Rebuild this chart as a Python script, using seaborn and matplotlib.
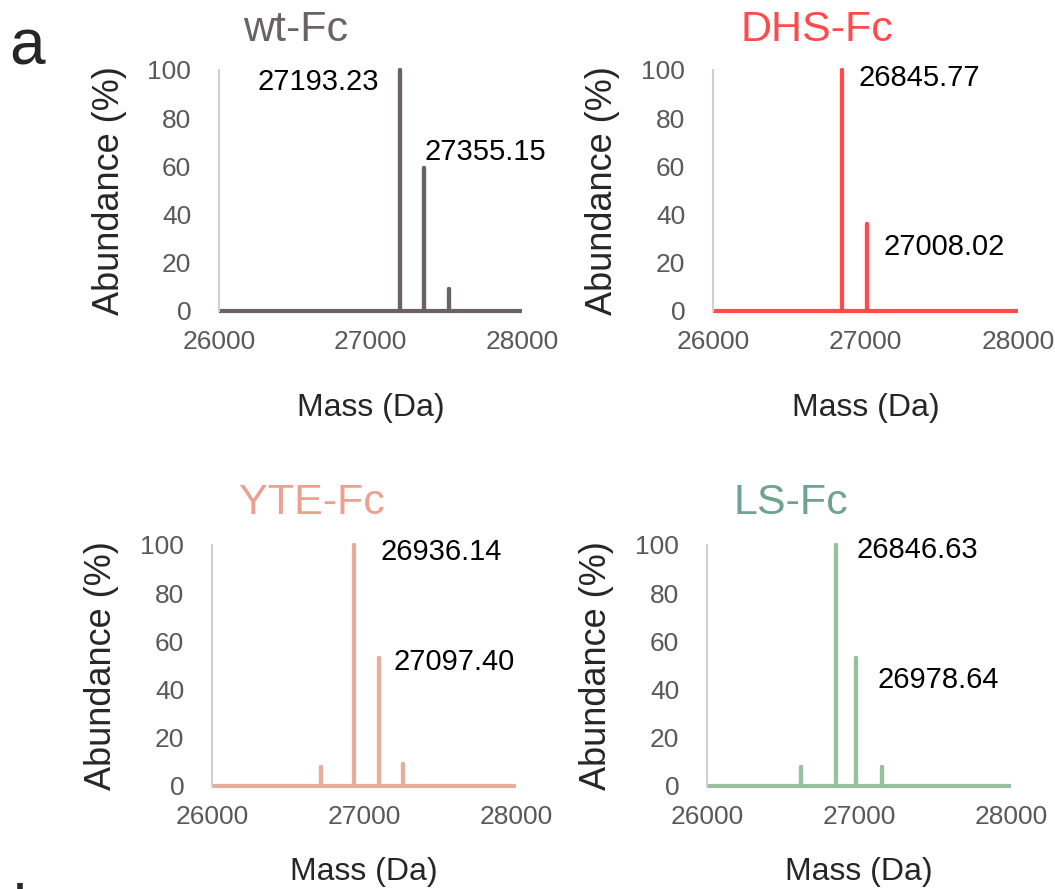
import numpy as np
import pandas as pd
import matplotlib
matplotlib.use("Agg")
import matplotlib.pyplot as plt
import seaborn as sns

# -----------------------------
# Data
# -----------------------------
names = ["wt-Fc", "DHS-Fc", "YTE-Fc", "LS-Fc"]
colors = ["#6b6363", "#ff4b4b", "#e6ad9c", "#97c19e"]
title_colors = ["#6b6363", "#ff4b4b", "#eca08f", "#6fa38f"]

wt_mass = [27193.23, 27355.15, 27517]
wt_abund = [100, 59.5, 9]
dhs_mass = [26845.77, 27008.02]
dhs_abund = [100, 36]
yte_mass = [26720, 26936.14, 27097.40, 27259]
yte_abund = [8, 100, 53, 9]
ls_mass = [26620, 26846.63, 26978.64, 27150]
ls_abund = [8, 100, 53, 8]

# labelled peaks: (mass, label y, dx in Da, ha)
wt_labels = [(27193.23, 95, -140, "right"), (27355.15, 66, 0, "left")]
dhs_labels = [(26845.77, 96.5, 110, "left"), (27008.02, 26.5, 110, "left")]
yte_labels = [(26936.14, 97, 170, "left"), (27097.40, 51.5, 100, "left")]
ls_labels = [(26846.63, 98, 140, "left"), (26978.64, 44, 140, "left")]

x_range = (26000, 28000)


def stick_frame(mass, abund):
    xs, ys = [x_range[0]], [0]
    for m, a in sorted(zip(mass, abund)):
        xs += [m, m, m]
        ys += [0, a, 0]
    xs.append(x_range[1])
    ys.append(0)
    return pd.DataFrame({"Mass": xs, "Abundance": ys})


# -----------------------------
# Style
# -----------------------------
sns.set_style("white")
plt.rcParams["font.family"] = ["Liberation Sans", "DejaVu Sans"]

fig = plt.figure(figsize=(10.55, 8.89), dpi=100)

# axes boxes in figure fractions
boxes = [
    (0.2076, 0.6502, 0.2872, 0.2711),
    (0.6758, 0.6502, 0.2890, 0.2711),
    (0.2009, 0.1159, 0.2882, 0.2711),
    (0.6701, 0.1159, 0.2882, 0.2711),
]
title_pos = [(0.280, 0.966), (0.774, 0.966), (0.296, 0.434), (0.750, 0.434)]
xlabel_pad = [28, 28, 20, 20]

spectra = [(wt_mass, wt_abund), (dhs_mass, dhs_abund),
           (yte_mass, yte_abund), (ls_mass, ls_abund)]
labels = [wt_labels, dhs_labels, yte_labels, ls_labels]

for i, name in enumerate(names):
    ax = fig.add_axes(boxes[i])
    df = stick_frame(*spectra[i])
    sns.lineplot(data=df, x="Mass", y="Abundance", ax=ax, color=colors[i],
                 linewidth=3.0, sort=False, estimator=None,
                 solid_capstyle="butt", clip_on=False)

    ax.set_xlim(*x_range)
    ax.set_ylim(0, 100)
    ax.set_xticks([26000, 27000, 28000])
    ax.set_yticks([0, 20, 40, 60, 80, 100])
    ax.tick_params(axis="both", length=0, labelsize=19, labelcolor="#595959")
    ax.tick_params(axis="x", pad=14)
    ax.tick_params(axis="y", pad=20)

    for side in ["top", "right", "bottom"]:
        ax.spines[side].set_visible(False)
    ax.spines["left"].set_color("#d0d0d0")
    ax.spines["left"].set_linewidth(1.5)

    ax.set_xlabel("Mass (Da)", fontsize=23, labelpad=xlabel_pad[i])
    ax.set_ylabel("Abundance (%)", fontsize=26, labelpad=15)

    for m, ly, dx, ha in labels[i]:
        ax.text(m + dx, ly, f"{m:.2f}", fontsize=21, ha=ha, va="center",
                color="black")

    fig.text(title_pos[i][0], title_pos[i][1], name, fontsize=31,
             color=title_colors[i], ha="center", va="center")

fig.text(0.009, 0.947, "a", fontsize=46, ha="left", va="center")
fig.text(0.012, 1 - 882 / 889, "b", fontsize=46, ha="left", va="top")

plt.savefig("out.png", dpi=100)
